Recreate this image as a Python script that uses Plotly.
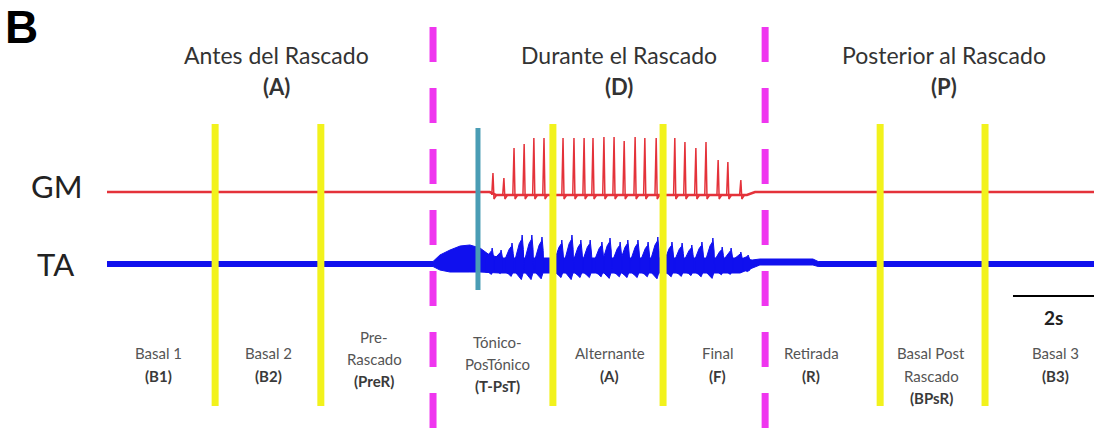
import plotly.graph_objects as go

# ---------------- recording data (time in s, amplitude in a.u.) ----------------
T_START, T_END = 0.0, 24.37

# phase boundaries
YELLOW_T = [2.67, 5.28, 11.01, 13.73, 19.09, 21.68]
PHASE_T = [8.05, 16.25]          # start / end of scratching episode
ONSET_T = 9.16                   # onset of alternating activity
SCALE_S = 2                      # time scale bar (s)

# GM: spike train
GM_SPIKE_T = [9.53, 9.80, 10.05, 10.30, 10.54, 10.79, 11.26, 11.53, 11.78, 12.00,
              12.27, 12.52, 12.77, 13.04, 13.28, 13.56, 14.02, 14.27, 14.54, 14.79,
              15.09, 15.33, 15.65]
GM_SPIKE_AMP = [19, 14, 44, 48, 54, 54, 54, 54, 54, 54,
                55, 55, 51, 55, 54, 54, 54, 50, 44, 50,
                32, 30, 12]
GM_BASE_T = [0.0, 9.45, 9.60, 15.80, 16.00, 24.37]
GM_BASE_V = [0, 0, -3, -3, 0, 0]

# TA: burst peaks and activity band
TA_BURST_T = [9.51, 9.73, 10.00, 10.25, 10.49, 10.74, 11.23, 11.48, 11.70, 11.93,
              12.22, 12.42, 12.67, 12.86, 13.11, 13.36, 13.60, 13.95, 14.20, 14.44,
              14.69, 14.96, 15.19, 15.41, 15.65, 15.83]
TA_BURST_AMP = [16, 14, 21, 29, 29, 27, 24, 29, 24, 24,
                22, 26, 22, 24, 24, 22, 27, 22, 21, 19,
                22, 26, 17, 16, 12, 9]
TA_BAND_T = [0.0, 8.05, 8.22, 8.47, 8.72, 8.96, 9.21, 9.41, 9.70, 15.63,
             15.93, 16.12, 17.43, 17.56, 24.37]
TA_BAND_HI = [2.5, 2.5, 9, 14, 18, 19, 16, 10, 6, 6, 4, 5, 5, 2.5, 2.5]
TA_BAND_LO = [-2.5, -2.5, -6, -8, -8, -8, -8, -8, -9, -9, -4, -1, -1, -2.5, -2.5]

GM_OFFSET, TA_OFFSET = 244, 172

PHASE_LABELS = [
    (158, [("Basal 1", 353, False), ("(B1)", 376, True)]),
    (268, [("Basal 2", 353, False), ("(B2)", 376, True)]),
    (374, [("Pre-", 337, False), ("Rascado", 359, False), ("(PreR)", 381, True)]),
    (497, [("Tónico-", 342, False), ("PosTónico", 364, False), ("(T-PsT)", 386, True)]),
    (610, [("Alternante", 353, False), ("(A)", 376, True)]),
    (717, [("Final", 353, False), ("(F)", 376, True)]),
    (811, [("Retirada", 353, False), ("(R)", 376, True)]),
    (931, [("Basal Post", 353, False), ("Rascado", 376, False), ("(BPsR)", 398, True)]),
    (1055, [("Basal 3", 353, False), ("(B3)", 376, True)]),
]
SECTIONS = [
    (276, "Antes del Rascado", "(A)"),
    (619, "Durante el Rascado", "(D)"),
    (944, "Posterior al Rascado", "(P)"),
]

# ---------------- page geometry helpers ----------------
W, H = 1094, 436
PX_PER_S = 40.5
X0_PX = 107


def px(x):
    return x / W


def py(r):
    return 1 - r / H


RED = "#e4323a"
BLUE = "#1010ee"
YELLOW = "#f2f21c"
MAGENTA = "#ef36ef"
TEAL = "#4a9db5"
FONT = "Lato"

fig = go.Figure()

# GM baseline
fig.add_trace(go.Scatter(
    x=GM_BASE_T, y=[GM_OFFSET + v for v in GM_BASE_V], mode="lines",
    line=dict(color=RED, width=2.6), hoverinfo="skip"))

# GM spikes
sx, sy = [], []
for t, a in zip(GM_SPIKE_T, GM_SPIKE_AMP):
    sx += [t - 0.03, t, t + 0.025, t + 0.09, None]
    sy += [GM_OFFSET - 3, GM_OFFSET + a, GM_OFFSET - 7, GM_OFFSET - 3, None]
fig.add_trace(go.Scatter(x=sx, y=sy, mode="lines",
                         line=dict(color=RED, width=1.5), hoverinfo="skip"))

# TA activity band
fig.add_trace(go.Scatter(
    x=TA_BAND_T + TA_BAND_T[::-1],
    y=[TA_OFFSET + v for v in TA_BAND_HI] + [TA_OFFSET + v for v in TA_BAND_LO[::-1]],
    mode="lines", fill="toself", fillcolor=BLUE,
    line=dict(color=BLUE, width=1), hoverinfo="skip"))

# TA bursts
bx, by = [], []
for t, a in zip(TA_BURST_T, TA_BURST_AMP):
    lo = 0.4 * a + 4
    bx += [t - 0.17, t - 0.07, t - 0.01, t, t + 0.03, t + 0.045,
           t + 0.045, t - 0.02, t - 0.09, t - 0.17, None]
    by += [TA_OFFSET + 5, TA_OFFSET + 0.7 * a, TA_OFFSET + 0.85 * a, TA_OFFSET + a,
           TA_OFFSET + 0.5 * a, TA_OFFSET + 4,
           TA_OFFSET - 6, TA_OFFSET - lo, TA_OFFSET - 0.8 * lo, TA_OFFSET - 8, None]
fig.add_trace(go.Scatter(x=bx, y=by, mode="lines", fill="toself", fillcolor=BLUE,
                         line=dict(color=BLUE, width=1), hoverinfo="skip"))

# ---------------- event markers ----------------
shapes = []
for t in YELLOW_T:
    shapes.append(dict(type="line", xref="x", yref="paper", x0=t, x1=t,
                       y0=py(124), y1=py(406), line=dict(color=YELLOW, width=7)))
shapes.append(dict(type="line", xref="x", yref="paper", x0=ONSET_T, x1=ONSET_T,
                   y0=py(128), y1=py(290), line=dict(color=TEAL, width=5)))
for t in PHASE_T:
    shapes.append(dict(type="line", xref="x", yref="paper", x0=t, x1=t,
                       y0=py(27), y1=py(436),
                       line=dict(color=MAGENTA, width=7, dash="35px,26px")))
# scale bar
shapes.append(dict(type="line", xref="x", yref="paper", x0=T_END - SCALE_S, x1=T_END,
                   y0=py(296), y1=py(296), line=dict(color="black", width=2)))

# ---------------- text ----------------
ann = []
ann.append(dict(text="<b>B</b>", x=px(3), y=py(27), xanchor="left", yanchor="middle",
                font=dict(family="Liberation Sans", size=46, color="black")))
for xc, title, tag in SECTIONS:
    ann.append(dict(text=title, x=px(xc), y=py(55), xanchor="center", yanchor="middle",
                    font=dict(family=FONT, size=23, color="#333333")))
    ann.append(dict(text=f"<b>{tag}</b>", x=px(xc), y=py(87), xanchor="center",
                    yanchor="middle", font=dict(family=FONT, size=22, color="#333333")))
ann.append(dict(text="GM", x=px(56), y=py(186), xanchor="center", yanchor="middle",
                font=dict(family=FONT, size=31, color="#222222")))
ann.append(dict(text="TA", x=px(55), y=py(264), xanchor="center", yanchor="middle",
                font=dict(family=FONT, size=31, color="#222222")))
ann.append(dict(text=f"<b>{SCALE_S}s</b>", x=px(1053), y=py(317), xanchor="center",
                yanchor="middle", font=dict(family=FONT, size=19, color="#222222")))
for xc, lines in PHASE_LABELS:
    for txt, r, bold in lines:
        ann.append(dict(text=f"<b>{txt}</b>" if bold else txt, x=px(xc), y=py(r),
                        xanchor="center", yanchor="middle",
                        font=dict(family=FONT, size=15,
                                  color="#3a3a3a" if bold else "#555555")))
for a in ann:
    a.update(xref="paper", yref="paper", showarrow=False)

fig.update_layout(
    width=W, height=H, margin=dict(l=0, r=0, t=0, b=0),
    paper_bgcolor="white", plot_bgcolor="white", showlegend=False,
    xaxis=dict(range=[-X0_PX / PX_PER_S, (W - X0_PX) / PX_PER_S], visible=False,
               fixedrange=True),
    yaxis=dict(range=[0, H], visible=False, fixedrange=True),
    shapes=shapes, annotations=ann,
)

fig.write_html("out.html", config={"displayModeBar": False})
